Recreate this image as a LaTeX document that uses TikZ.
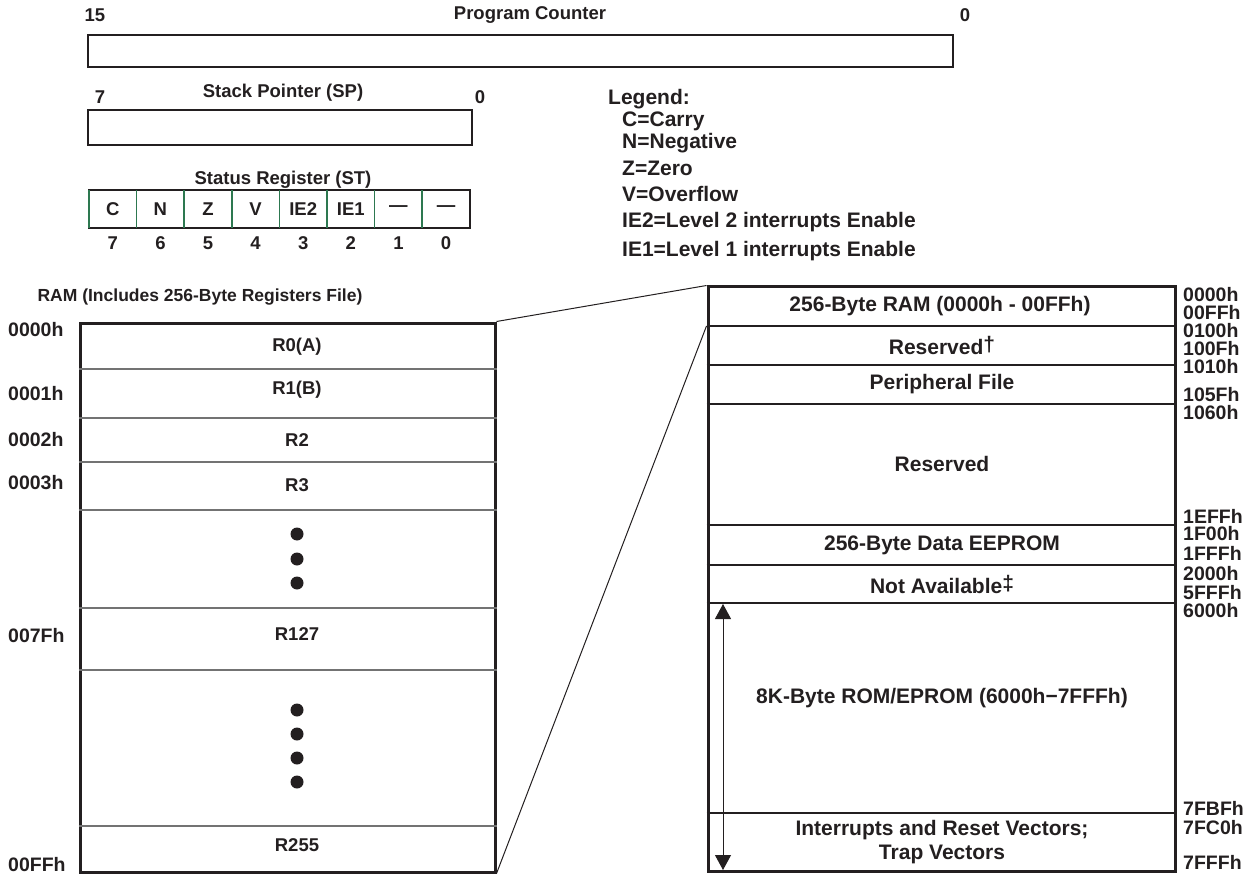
\documentclass[tikz,border=0pt]{standalone}
\usepackage{fontspec}
\setmainfont{Liberation Sans}
\usetikzlibrary{positioning,arrows.meta}
\definecolor{ink}{RGB}{35,31,32}
\definecolor{bitgreen}{RGB}{45,120,80}
\definecolor{rowgray}{gray}{0.45}

\begin{document}
\begin{tikzpicture}
  [x=1pt,y=-1pt,font=\fontsize{18.5}{21}\selectfont\bfseries,color=ink,
   every node/.style={inner sep=0pt},
   big/.style={font=\fontsize{21}{24}\selectfont\bfseries},
   addr/.style={anchor=west,font=\fontsize{19.5}{22}\selectfont\bfseries},
   regbox/.style={draw=ink,line width=2.5pt},
   membox/.style={draw=ink,line width=3pt},
   rowline/.style={draw=rowgray,line width=1.2pt},
   mapline/.style={draw=ink,line width=2pt},
   bitline/.style={draw=bitgreen,line width=1.6pt},
   dot/.style={circle,fill=ink,minimum size=13pt}]
  \useasboundingbox (0,0) rectangle (1258,877);

  % registers
  \node (pc) at (520.5,51) [regbox,minimum width=865pt,minimum height=32pt] {};
  \node (pchi) at (95,15) {15};
  \node (pcname) at (530,15) {Program Counter};
  \node (pclo) at (965,15) {0};

  \node (sp) at (280,127.5) [regbox,minimum width=384pt,minimum height=35pt] {};
  \node (sphi) at (100,97) {7};
  \node (spname) at (283,93) {Stack Pointer (SP)};
  \node (splo) at (480,97) {0};

  \node (stname) at (283,180) {Status Register (ST)};
  \node (st) at (279.5,209) [regbox,minimum width=381pt,minimum height=38pt] {};
  \foreach \k in {0,...,7}
    \draw[bitline] (89+47.6*\k,190) -- (89+47.6*\k,228);
  \foreach \k/\flag/\bit in {1/C/7,2/N/6,3/Z/5,4/V/4,5/IE2/3,6/IE1/2,7/---/1,8/---/0} {
    \node (f\k) at (89+47.6*\k-23.8,209) {\flag};
    \node (b\k) at (89+47.6*\k-23.8,243) {\bit};
  }

  % legend
  \node (legend) at (608,99) [anchor=west,big] {Legend:};
  \foreach \txt/\y in {C=Carry/121,N=Negative/143,Z=Zero/168,V=Overflow/194,
                      IE2=Level 2 interrupts Enable/222,IE1=Level 1 interrupts Enable/251}
    \node (lg\y) at (622,\y) [anchor=west,big] {\txt};

  % register file
  \node (ramname) at (200,297) [font=\fontsize{17.5}{20}\selectfont\bfseries]
    {RAM (Includes 256-Byte Registers File)};
  \node (ram) at (287.5,597.5) [membox,minimum width=415pt,minimum height=549pt] {};
  \foreach \y in {369,418,462,510,608,670,826}
    \draw[rowline] (ram.west |- 0,\y) -- (ram.east |- 0,\y);
  \foreach \txt/\y in {R0(A)/347,R1(B)/390,R2/440,R3/485,R127/634,R255/845}
    \node (r\y) at (297,\y) {\txt};
  \foreach \y in {534,559,583,710,734,758,782}
    \node (d\y) at (297,\y) [dot] {};
  \foreach \txt/\y in {0000h/330,0001h/394,0002h/440,0003h/483,007Fh/636,00FFh/865}
    \node (l\y) at (8,\y) [addr] {\txt};

  % memory map
  \node (map) at (941.5,579) [membox,minimum width=467pt,minimum height=584pt] {};
  \foreach \y in {326,365,404,525,565,603,813}
    \draw[mapline] (map.west |- 0,\y) -- (map.east |- 0,\y);
  \coordinate (cut) at (map.west |- 0,326);
  \node (m1) at (940,306) [big] {256-Byte RAM (0000h - 00FFh)};
  \node (m2) at (942,345) [big] {Reserved\raisebox{3pt}{†}};
  \node (m3) at (942,384) [big] {Peripheral File};
  \node (m4) at (942,464) [big] {Reserved};
  \node (m5) at (942,545) [big] {256-Byte Data EEPROM};
  \node (m6) at (942,584) [big] {Not Available\raisebox{3pt}{‡}};
  \node (m7) at (942,698) [big] {8K-Byte ROM/EPROM (6000h−7FFFh)};
  \node (m8) at (942,842) [big,align=center] {Interrupts and Reset Vectors;\\Trap Vectors};
  \coordinate (romtop) at (723,604);
  \coordinate (rombot) at (723,870);
  \draw[line width=1pt,{Triangle[width=16pt,length=15pt]}-{Triangle[width=16pt,length=15pt]}]
    (romtop) -- (rombot);
  \foreach \txt/\y in {0000h/295,00FFh/313,0100h/331,100Fh/349,1010h/367,105Fh/395,
                       1060h/413,1EFFh/516,1F00h/534,1FFFh/553,2000h/574,5FFFh/593,
                       6000h/611,7FBFh/808,7FC0h/828,7FFFh/862}
    \node (a\y) at (1183,\y) [addr] {\txt};

  % zoom lines
  \draw[line width=1pt] (ram.north east) -- (map.north west);
  \draw[line width=1pt] (ram.south east) -- (cut);
\end{tikzpicture}
\end{document}
